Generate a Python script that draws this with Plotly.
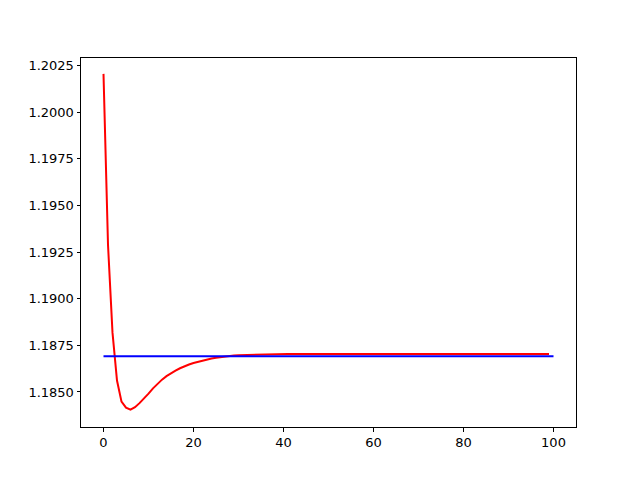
import plotly.graph_objects as go

# Red series (one value per step, 0..99)
red_x = list(range(100))
red_y = [
    1.20206, 1.19290, 1.18818, 1.18561, 1.18448, 1.18416, 1.18405, 1.18418, 1.18440, 1.18463,
    1.18491, 1.18519, 1.18545, 1.18566, 1.18585, 1.18601, 1.18614, 1.18627, 1.18638, 1.18647,
    1.18655, 1.18662, 1.18668, 1.18674, 1.18679, 1.18683, 1.18687, 1.18690, 1.18693, 1.18695,
    1.18697, 1.18698, 1.18699, 1.18700, 1.18701, 1.18702, 1.18702, 1.18703, 1.18703, 1.18703,
    1.18704, 1.18704, 1.18704, 1.18704, 1.18704, 1.18704, 1.18704, 1.18704, 1.18704, 1.18704,
    1.18704, 1.18704, 1.18704, 1.18704, 1.18704, 1.18704, 1.18704, 1.18704, 1.18704, 1.18704,
    1.18704, 1.18704, 1.18704, 1.18704, 1.18704, 1.18704, 1.18704, 1.18704, 1.18704, 1.18704,
    1.18704, 1.18704, 1.18704, 1.18704, 1.18704, 1.18704, 1.18704, 1.18704, 1.18704, 1.18704,
    1.18704, 1.18704, 1.18704, 1.18704, 1.18704, 1.18704, 1.18704, 1.18704, 1.18704, 1.18704,
    1.18704, 1.18704, 1.18704, 1.18704, 1.18704, 1.18704, 1.18704, 1.18704, 1.18704, 1.18704,
]

# Blue reference line
blue_x = [0, 100]
blue_y = [1.18691, 1.18691]

x_ticks = [0, 20, 40, 60, 80, 100]
y_ticks = [1.1850, 1.1875, 1.1900, 1.1925, 1.1950, 1.1975, 1.2000, 1.2025]
y_tick_labels = ["1.1850", "1.1875", "1.1900", "1.1925", "1.1950", "1.1975", "1.2000", "1.2025"]

fig = go.Figure()
fig.add_trace(go.Scatter(x=red_x, y=red_y, mode="lines",
                         line=dict(color="#ff0000", width=2), showlegend=False))
fig.add_trace(go.Scatter(x=blue_x, y=blue_y, mode="lines",
                         line=dict(color="#0000ff", width=2), showlegend=False))

axis_common = dict(
    showline=True, mirror=True, linecolor="black", linewidth=1,
    ticks="outside", ticklen=3.5, tickwidth=1, tickcolor="black",
    showgrid=False, zeroline=False,
    tickfont=dict(family="DejaVu Sans", size=13, color="black"),
)

fig.update_layout(
    width=640, height=480,
    paper_bgcolor="white", plot_bgcolor="white",
    margin=dict(l=73, r=72, t=50, b=61),
    xaxis=dict(range=[-5, 105], tickvals=x_ticks, **axis_common),
    yaxis=dict(range=[1.18312, 1.20291], tickvals=y_ticks, ticktext=y_tick_labels, **axis_common),
)

fig.write_html("out.html")
